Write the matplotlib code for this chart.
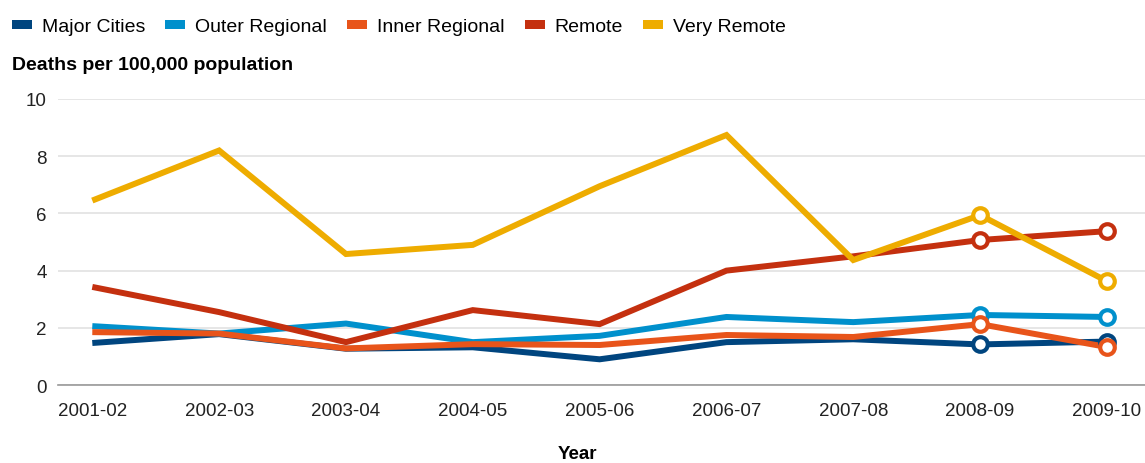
import numpy as np
import matplotlib.pyplot as plt
from matplotlib.patches import Rectangle

plt.rcParams['font.family'] = ['Liberation Sans', 'DejaVu Sans']

years = ["2001-02", "2002-03", "2003-04", "2004-05", "2005-06",
         "2006-07", "2007-08", "2008-09", "2009-10"]

major_cities = [1.47, 1.78, 1.27, 1.32, 0.90, 1.50, 1.60, 1.42, 1.52]
outer_regional = [2.06, 1.80, 2.15, 1.50, 1.72, 2.38, 2.20, 2.45, 2.38]
inner_regional = [1.85, 1.80, 1.28, 1.43, 1.40, 1.75, 1.68, 2.13, 1.33]
remote = [3.43, 2.55, 1.50, 2.62, 2.13, 4.00, 4.50, 5.07, 5.38]
very_remote = [6.45, 8.20, 4.58, 4.90, 6.95, 8.74, 4.37, 5.94, 3.63]

series_names = ["Major Cities", "Outer Regional", "Inner Regional", "Remote", "Very Remote"]
colors = ["#00457f", "#0090cc", "#e8541a", "#c4300f", "#eeac00"]
series = [major_cities, outer_regional, inner_regional, remote, very_remote]

# last two years are drawn with open markers
marked = [7, 8]

fig = plt.figure(figsize=(11.45, 4.64), dpi=100)
ax = fig.add_axes([0.0507, 0.168, 0.9493, 0.6165])

x = np.arange(len(years))
for name, vals, col in zip(series_names, series, colors):
    ax.plot(x, vals, color=col, linewidth=4.3, solid_joinstyle='miter',
            solid_capstyle='butt', clip_on=False, zorder=3)
    ax.plot(x[marked], np.array(vals)[marked], linestyle='none', marker='o',
            markersize=10.5, markerfacecolor='white', markeredgecolor=col,
            markeredgewidth=3, clip_on=False, zorder=4)

ax.set_xlim(-0.27, 8.30)
ax.set_ylim(0, 10)
ax.set_yticks([0, 2, 4, 6, 8, 10])
ax.set_xticks(x)
ax.set_xticklabels(years)
ax.tick_params(axis='both', length=0, labelsize=13.5, colors='#222222')
ax.tick_params(axis='x', pad=12)
ax.tick_params(axis='y', pad=8)
ax.grid(axis='y', color='#e2e2e2', linewidth=1.2)
ax.set_axisbelow(True)
for s in ['top', 'right', 'left']:
    ax.spines[s].set_visible(False)
ax.spines['bottom'].set_color('#999999')
ax.spines['bottom'].set_linewidth(1.2)

fig.text(0.504, 1 - 455 / 464, "Year", fontsize=13.5, fontweight='bold',
         ha='center', va='center')
fig.text(0.0105, 1 - 65 / 464, "Deaths per 100,000 population", fontsize=14,
         fontweight='bold', va='center', ha='left')

handles = [Rectangle((0, 0), 1, 1, facecolor=c, edgecolor='none') for c in colors]
fig.legend(handles, series_names, loc='upper left', bbox_to_anchor=(-0.005, 0.996),
           ncol=5, frameon=False, fontsize=14, handlelength=1.03,
           handleheight=0.36, handletextpad=0.5, columnspacing=1.05)

fig.savefig("out.png", dpi=100)
